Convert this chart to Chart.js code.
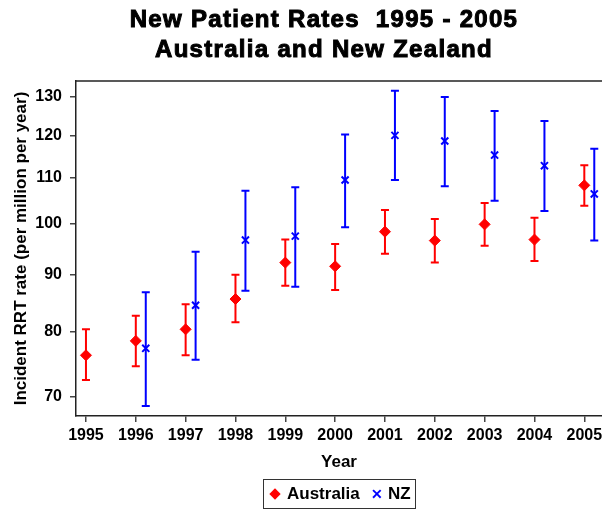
<!DOCTYPE html>
<html>
<head>
<meta charset="utf-8">
<script src="https://cdn.jsdelivr.net/npm/chart.js@4.4.0/dist/chart.umd.min.js"></script>
<style>
    html, body { margin: 0; padding: 0; background: #fff; }
    #wrap { position: relative; width: 602px; height: 511px; }
    #chart { position: absolute; left: 0; top: 0; }
    #title {
        position: absolute; left: 28px; top: 4px; width: 592px;
        text-align: center; font-family: "Liberation Sans", Arial, sans-serif;
        font-weight: bold; font-size: 24px; line-height: 30px;
        letter-spacing: 1.3px; -webkit-text-stroke: 1px #000; color: #000;
    }
    #legend {
        position: absolute; left: 263px; top: 479px; width: 151px; height: 28px;
        border: 1px solid #333; box-sizing: content-box;
        font-family: "Liberation Sans", Arial, sans-serif; font-weight: bold;
        font-size: 17px; line-height: 28px; color: #000; white-space: nowrap;
    }
    #legend .diamond {
        position: absolute; left: 7px; top: 10px; width: 8px; height: 8px;
        background: #ff0000; transform: rotate(45deg);
    }
    #legend .cross {
        position: absolute; left: 107px; top: 0; color: #0000ff; font-size: 14px;
    }
</style>
</head>
<body>
<div id="wrap">
    <canvas id="chart" width="602" height="511"></canvas>
    <div id="title">New Patient Rates&nbsp; 1995 - 2005<br>Australia and New Zealand</div>
    <div id="legend">
        <span class="diamond"></span>
        <span style="position:absolute;left:23px;top:0;">Australia</span>
        <span class="cross">&#x2715;</span>
        <span style="position:absolute;left:124px;top:0;">NZ</span>
    </div>
</div>
<script>
// Values
const years = [1995, 1996, 1997, 1998, 1999, 2000, 2001, 2002, 2003, 2004, 2005];
const ausRate  = [76.2, 78.5, 80.4, 85.6, 92.3, 91.6, 98.4, 96.6, 99.9, 96.8, 108.3];
const ausLower = [72.4, 74.5, 76.2, 81.6, 88.0, 87.2, 94.0, 92.3, 95.6, 92.6, 103.8];
const ausUpper = [80.4, 82.7, 84.7, 90.0, 96.8, 95.9, 102.9, 101.0, 104.4, 101.3, 112.9];
const nzRate  = [null, 77.3, 84.5, 96.7, 97.5, 109.5, 120.1, 118.7, 115.3, 112.8, 106.4];
const nzLower = [null, 68.6, 75.5, 87.1, 87.8, 99.3, 109.5, 108.1, 104.9, 102.7, 96.6];
const nzUpper = [null, 86.8, 94.4, 107.1, 107.9, 120.3, 131.7, 130.0, 126.3, 123.7, 116.8];
const yTicks = [70, 80, 90, 100, 110, 120, 130];

const NZ_SHIFT = 0.2; // NZ points sit a little right of the year

function toPoints(values, shift) {
    const pts = [];
    values.forEach((v, i) => {
        if (v !== null) pts.push({ x: years[i] + shift, y: v });
    });
    return pts;
}

// Draw the confidence interval bars under the markers
const errorBars = {
    id: 'errorBars',
    beforeDatasetsDraw(chart) {
        const { ctx, scales: { x, y } } = chart;
        chart.data.datasets.forEach(ds => {
            ctx.save();
            ctx.strokeStyle = ds.borderColor;
            ctx.lineWidth = 2;
            ds.lower.forEach((lo, i) => {
                const hi = ds.upper[i];
                if (lo === null || hi === null) return;
                const px = x.getPixelForValue(years[i] + ds.shift);
                const pLo = y.getPixelForValue(lo);
                const pHi = y.getPixelForValue(hi);
                ctx.beginPath();
                ctx.moveTo(px, pLo);
                ctx.lineTo(px, pHi);
                ctx.moveTo(px - 4, pLo);
                ctx.lineTo(px + 4, pLo);
                ctx.moveTo(px - 4, pHi);
                ctx.lineTo(px + 4, pHi);
                ctx.stroke();
            });
            ctx.restore();
        });
    }
};

// Top frame line of the plot box
const topFrame = {
    id: 'topFrame',
    afterDraw(chart) {
        const { ctx, chartArea } = chart;
        ctx.save();
        ctx.strokeStyle = '#222';
        ctx.lineWidth = 1.5;
        ctx.beginPath();
        ctx.moveTo(chartArea.left, chartArea.top);
        ctx.lineTo(chartArea.right, chartArea.top);
        ctx.stroke();
        ctx.restore();
    }
};

const tickFont = { family: '"Liberation Sans", Arial, sans-serif', size: 16, weight: 'bold' };
const titleFont = { family: '"Liberation Sans", Arial, sans-serif', size: 17, weight: 'bold' };

new Chart(document.getElementById('chart'), {
    type: 'scatter',
    data: {
        datasets: [{
            label: 'Australia',
            data: toPoints(ausRate, 0),
            lower: ausLower,
            upper: ausUpper,
            shift: 0,
            pointStyle: 'rectRot',
            pointRadius: 5.5,
            borderWidth: 1,
            borderColor: '#ff0000',
            backgroundColor: '#ff0000'
        }, {
            label: 'NZ',
            data: toPoints(nzRate, NZ_SHIFT),
            lower: nzLower,
            upper: nzUpper,
            shift: NZ_SHIFT,
            pointStyle: 'crossRot',
            pointRadius: 5,
            borderWidth: 2,
            borderColor: '#0000ff',
            backgroundColor: '#0000ff'
        }]
    },
    options: {
        responsive: false,
        animation: false,
        layout: { autoPadding: false, padding: { top: 81, right: 0, bottom: 38, left: 0 } },
        plugins: {
            legend: { display: false },
            tooltip: { enabled: false }
        },
        scales: {
            x: {
                type: 'linear',
                min: 1994.8,
                max: 2005.355,
                afterBuildTicks: scale => { scale.ticks = years.map(v => ({ value: v })); },
                afterFit: scale => {
                    scale.height = 57;
                    scale.paddingLeft = 0;
                    scale.paddingRight = 0;
                },
                ticks: { callback: v => String(v), color: '#000', font: tickFont, padding: 4, maxRotation: 0 },
                grid: { drawOnChartArea: false, color: '#444', tickLength: 6, lineWidth: 1.5 },
                border: { color: '#222', width: 1.5 },
                title: { display: true, text: 'Year', color: '#000', font: titleFont, padding: { top: 0, bottom: 0 } }
            },
            y: {
                type: 'logarithmic',
                min: 67.2,
                max: 134.4,
                afterBuildTicks: scale => { scale.ticks = yTicks.map(v => ({ value: v })); },
                afterFit: scale => { scale.width = 76; },
                ticks: { callback: v => String(v), color: '#000', font: tickFont, padding: 8 },
                grid: { drawOnChartArea: false, color: '#444', tickLength: 6, lineWidth: 1.5 },
                border: { color: '#222', width: 1.5 },
                title: {
                    display: true,
                    text: 'Incident RRT rate (per million per year)',
                    color: '#000', font: titleFont, padding: { top: 11, bottom: 0 }
                }
            }
        }
    },
    plugins: [errorBars, topFrame]
});
</script>
</body>
</html>
